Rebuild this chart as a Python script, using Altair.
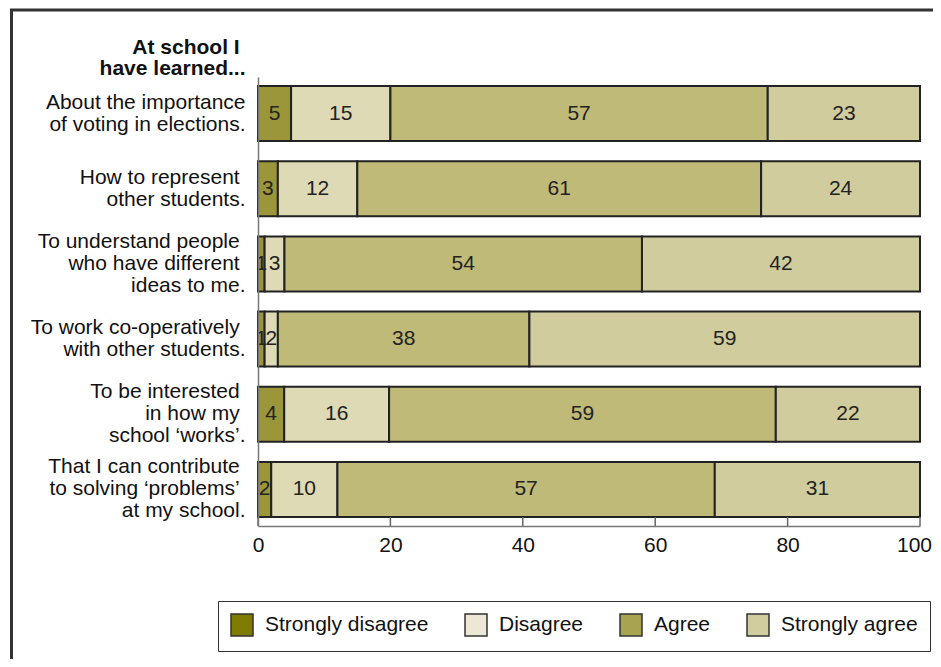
import altair as alt
import pandas as pd

NB = "\u00a0\u200b"
questions = [
    "About the importance|of voting in elections.",
    "How to represent" + NB + "|other students.",
    "To understand people" + NB + "|who have different" + NB + "|ideas to me.",
    "To work co-operatively" + NB + "|with other students.",
    "To be interested" + NB + "|in how my" + NB + "|school \u2018works\u2019.",
    "That I can contribute" + NB + "|to solving \u2018problems\u2019" + NB + "|at my school.",
]
categories = ["Strongly disagree", "Disagree", "Agree", "Strongly agree"]
strongly_disagree = [5, 3, 1, 1, 4, 2]
disagree = [15, 12, 3, 2, 16, 10]
agree = [57, 61, 54, 38, 59, 57]
strongly_agree = [23, 24, 42, 59, 22, 31]
tick_values = [0, 0.2, 0.4, 0.6, 0.8, 1.0]
end_label = ["100"]

bar_colors = ["#9b963a", "#dedab5", "#bfba78", "#d0cc9d"]
legend_colors = ["#7f7a00", "#ede8d6", "#a8a350", "#d1cd9f"]

rows = []
for qi, q in enumerate(questions):
    for ci, (cat, series) in enumerate(zip(categories, [strongly_disagree, disagree, agree, strongly_agree])):
        rows.append({"q": q, "cat": cat, "ord": ci, "value": series[qi]})
df = pd.DataFrame(rows)

FONT = "Liberation Sans"
FS = 21
W, H = 662, 449

base = alt.Chart(df).transform_stack(
    stack="value", groupby=["q"], as_=["x0", "x1"], offset="normalize",
    sort=[alt.SortField("ord", order="ascending")]
).transform_calculate(mid="(datum.x0 + datum.x1) / 2")

y_enc = alt.Y(
    "q:N", sort=questions,
    scale=alt.Scale(paddingInner=0.269, paddingOuter=0.12),
    axis=alt.Axis(
        title=["At school I" + NB, "have learned..."],
        titleAngle=0, titleAlign="right", titleBaseline="alphabetic",
        titleX=-13, titleY=-24, titleFontSize=FS, titleFontWeight="bold",
        titleFont=FONT, titleColor="#111", titleLineHeight=21,
        labelExpr="split(datum.label, '|')", labelFontSize=FS, labelFont=FONT,
        labelColor="#111", labelLineHeight=22, labelPadding=13, labelLimit=400,
        labelOffset={"condition": {"test": "length(split(datum.value, '|')) > 2", "value": -22}, "value": -11},
        ticks=False, domainColor="#777", domainWidth=1.5,
    ),
)

x_scale = alt.Scale(domain=[0, 1], nice=False)

bars = base.mark_rect(stroke="#222", strokeWidth=2).encode(
    y=y_enc,
    x=alt.X("x0:Q", scale=x_scale, axis=alt.Axis(
        title=None, values=tick_values,
        labelExpr="datum.value > 0.99 ? '' : format(datum.value * 100, 'd')",
        labelFontSize=FS, labelFont=FONT, labelColor="#111", labelPadding=8,
        labelFlush=False, ticks=False, grid=False, domainColor="#777", domainWidth=1.5,
    )),
    x2="x1:Q",
    color=alt.Color("cat:N", scale=alt.Scale(domain=categories, range=bar_colors), legend=None),
)

labels = base.mark_text(fontSize=FS, font=FONT, color="#222").encode(
    y=alt.Y("q:N", sort=questions),
    x=alt.X("mid:Q", scale=x_scale),
    text=alt.Text("value:Q"),
)

end_text = alt.Chart(pd.DataFrame({"t": [1.0], "lab": end_label})).mark_text(
    fontSize=FS, font=FONT, color="#111", align="right", baseline="top", dx=12, dy=9
).encode(
    x=alt.X("t:Q", scale=x_scale),
    y=alt.value(H),
    text="lab:N",
)

ticks = alt.Chart(pd.DataFrame({"t": tick_values})).mark_rule(color="#666", strokeWidth=1.5).encode(
    x=alt.X("t:Q", scale=x_scale),
    y=alt.value(H - 9),
    y2=alt.value(H),
)

frame = alt.Chart(alt.Data(values=[{}])).mark_rect(
    fill="transparent", stroke="#333", strokeWidth=3
).encode(
    x=alt.value(-246.5), x2=alt.value(900), y=alt.value(-67), y2=alt.value(800)
)

legend_layer = alt.Chart(pd.DataFrame({"cat": categories})).mark_rect(strokeWidth=0).encode(
    x=alt.value(0), x2=alt.value(0), y=alt.value(0), y2=alt.value(0),
    color=alt.Color("cat:N", scale=alt.Scale(domain=categories, range=legend_colors),
                    legend=alt.Legend(
                        title=None, orient="none", legendX=-40, legendY=524,
                        direction="horizontal", columns=4, columnPadding=33,
                        symbolType="square", symbolSize=484, symbolStrokeColor="#333",
                        symbolStrokeWidth=1.5, symbolOpacity=1,
                        labelFontSize=FS, labelFont=FONT, labelColor="#111",
                        labelOffset=11, labelLimit=300,
                        padding=12, strokeColor="#333", fillColor="white",
                    )),
)

chart = alt.layer(frame, bars, labels, end_text, ticks, legend_layer).resolve_scale(
    color="independent"
).properties(
    width=W, height=H,
    autosize=alt.AutoSizeParams(type="none"),
    padding={"left": 250, "top": 69, "right": 13, "bottom": 133},
).configure_view(stroke=None)

chart.save("out.html", embed_options={"renderer": "svg", "actions": False})
